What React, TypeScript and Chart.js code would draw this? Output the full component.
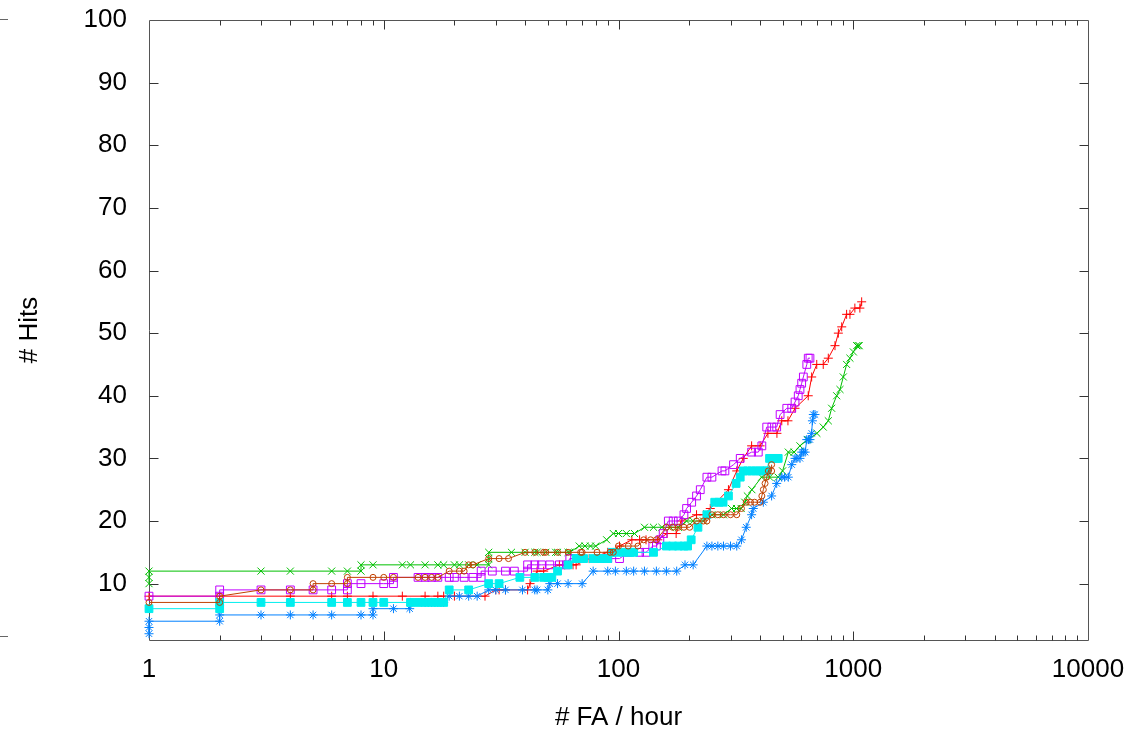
import React, { useEffect, useRef } from "react";
import { Chart, registerables } from "chart.js";

Chart.register(...registerables);

// ---- data (FA/hour on x, #Hits on y) ----
const redFA = [1, 2, 4, 6, 7, 9, 12, 15, 17, 18, 20, 27, 30, 31, 33, 41, 42, 45, 48, 56, 59, 64, 66, 75, 90, 101, 114, 123, 131, 147, 161, 176, 185, 215, 230, 246, 294, 319, 340, 369, 401, 433, 473, 496, 527, 565, 643, 665, 699, 745, 783, 836, 864, 893, 937, 968, 1016, 1067, 1086];
const redHits = [8, 8, 8, 8, 8, 8, 8, 8, 8, 8, 8, 8, 9, 9, 9, 9, 10, 12, 12, 13, 13, 13, 13, 14, 15, 16, 17, 17, 17, 17, 18, 18, 20, 21, 21, 22, 25, 28, 30, 32, 32, 34, 34, 36, 36, 38, 40, 43, 45, 45, 46, 48, 50, 51, 53, 53, 54, 54, 55];

const greenFA = [1, 1, 1, 3, 4, 6, 7, 8, 8, 9, 12, 13, 15, 17, 18, 20, 21, 23, 25, 28, 28, 28, 35, 40, 44, 45, 49, 54, 55, 61, 62, 68, 72, 76, 80, 89, 95, 100, 108, 117, 129, 141, 153, 166, 180, 195, 208, 230, 250, 280, 303, 318, 333, 345, 354, 370, 407, 440, 479, 500, 529, 560, 593, 640, 700, 745, 783, 809, 850, 878, 907, 937, 968, 1001, 1034, 1050, 1060];
const greenHits = [10, 11, 12, 12, 12, 12, 12, 12, 13, 13, 13, 13, 13, 13, 13, 13, 13, 13, 13, 13, 14, 15, 15, 15, 15, 15, 15, 15, 15, 15, 15, 16, 16, 16, 16, 17, 18, 18, 18, 18, 19, 19, 19, 19, 19, 20, 20, 20, 21, 21, 22, 22, 22, 23, 24, 25, 27, 27, 27, 28, 31, 31, 32, 33, 34, 35, 36, 38, 40, 41, 43, 45, 46, 47, 48, 48, 48];

const blueFA = [1, 1, 1, 2, 2, 3, 4, 5, 6, 8, 9, 9, 11, 12.9, 13, 15, 16, 17, 18, 19, 21, 23, 25, 28, 30, 33, 39, 44, 45, 50, 51, 55, 61, 70, 78, 90, 97, 108, 116, 129, 145, 160, 177, 192, 208, 238, 250, 265, 280, 300, 319, 334, 350, 369, 375, 414, 449, 472, 496, 510, 529, 547, 565, 575, 593, 603, 613, 624, 634, 645, 654, 665, 670, 676, 687];
const blueHits = [2, 3, 4, 4, 5, 5, 5, 5, 5, 5, 5, 6, 6, 6, 7, 7, 7, 7, 7, 8, 8, 8, 8, 9, 9, 9, 9, 9, 9, 9, 10, 10, 10, 10, 12, 12, 12, 12, 12, 12, 12, 12, 12, 13, 13, 16, 16, 16, 16, 16, 16, 17, 19, 21, 22, 23, 24, 26, 27, 27, 27, 29, 30, 30, 30, 31, 31, 31, 33, 33, 33, 34, 36, 37, 37];

const purpleFA = [1, 2, 2, 3, 4, 5, 6, 7, 7, 8, 10, 11, 11, 14, 15, 16, 17, 19, 20, 22, 24, 26, 26, 29, 33, 36, 41, 41, 44, 47, 51, 56, 60, 62, 65, 68, 83, 90, 101, 110, 123, 131, 140, 145, 150, 155, 163, 171, 180, 190, 195, 205, 215, 223, 238, 250, 276, 284, 309, 330, 369, 394, 408, 428, 450, 472, 488, 521, 547, 565, 583, 593, 603, 613, 634, 643, 654];
const purpleHits = [8, 8, 9, 9, 9, 9, 9, 9, 10, 10, 10, 10, 11, 11, 11, 11, 11, 11, 11, 11, 11, 11, 12, 12, 12, 12, 12, 13, 13, 13, 13, 13, 13, 14, 14, 14, 14, 14, 14, 15, 15, 15, 16, 16, 17, 18, 20, 20, 20, 21, 22, 23, 24, 25, 27, 27, 28, 28, 29, 30, 31, 31, 32, 35, 35, 35, 37, 38, 38, 39, 40, 41, 42, 43, 45, 46, 46];

const cyanFA = [1, 2, 2, 3, 4, 6, 7, 8, 9, 10, 13, 14, 15, 16, 17, 18, 19, 23, 28, 31, 38, 44, 48, 50, 52, 55, 61, 66, 68, 71, 78, 82, 86, 90, 94, 98, 105, 112, 116, 141, 160, 170, 180, 190, 197, 204, 218, 238, 257, 268, 279, 294, 317, 330, 340, 355, 370, 385, 400, 415, 428, 440, 455, 470, 479];
const cyanHits = [6, 6, 7, 7, 7, 7, 7, 7, 7, 7, 7, 7, 7, 7, 7, 7, 9, 9, 10, 10, 11, 11, 11, 11, 11, 12, 13, 14, 14, 14, 14, 14, 14, 14, 15, 15, 15, 15, 15, 15, 16, 16, 16, 16, 16, 17, 19, 21, 23, 23, 23, 24, 26, 27, 28, 28, 28, 28, 28, 28, 28, 30, 30, 30, 30];

const brownFA = [1, 2, 2, 3, 4, 5, 5, 6, 7, 7, 9, 10, 11, 14, 15, 16, 17, 19, 21, 22, 23, 24, 28, 31, 34, 40, 44, 48, 49, 55, 61, 69, 70, 81, 92, 95, 100, 110, 121, 128, 137, 145, 160, 170, 180, 190, 201, 215, 230, 238, 250, 265, 280, 300, 319, 334, 350, 365, 380, 401, 408, 414, 421, 428, 435, 449, 449];
const brownHits = [7, 7, 8, 9, 9, 9, 10, 10, 10, 11, 11, 11, 11, 11, 11, 11, 11, 12, 12, 12, 13, 13, 14, 14, 14, 15, 15, 15, 15, 15, 15, 15, 15, 15, 15, 15, 16, 16, 16, 17, 17, 17, 19, 19, 19, 19, 19, 20, 20, 20, 21, 21, 21, 21, 21, 22, 23, 23, 23, 23, 24, 25, 26, 27, 28, 28, 29];

// ---- axes ----
const xMin = 1;
const xMax = 10000;
const yMin = 1;
const yMax = 100;
const yTickValues = [10, 20, 30, 40, 50, 60, 70, 80, 90, 100];
const xMajorTicks = [1, 10, 100, 1000, 10000];
const xAxisTitle = "# FA / hour";
const yAxisTitle = "# Hits";

const FONT = "'Liberation Sans', Arial, Helvetica, sans-serif";

const isMajorX = (v: number) => xMajorTicks.some((m) => Math.abs(m - v) < 1e-9 * m);

const allXTicks: number[] = (() => {
  const out: number[] = [];
  for (let d = 0; d < xMajorTicks.length - 1; d++) {
    const base = xMajorTicks[d];
    for (let k = 1; k <= 9; k++) out.push(base * k);
  }
  out.push(xMajorTicks[xMajorTicks.length - 1]);
  return out;
})();

const toPts = (xs: number[], ys: number[]) => xs.map((x, i) => ({ x, y: ys[i] }));

const zeroPad = (scale: any) => {
  scale.paddingTop = 0;
  scale.paddingBottom = 0;
  scale.paddingLeft = 0;
  scale.paddingRight = 0;
};

const framePlugin = {
  id: "gnuplotFrame",
  beforeDatasetsDraw(chart: any) {
    const { ctx, chartArea: a, scales } = chart;
    const xs = scales.x;
    const ys = scales.y;
    ctx.save();
    ctx.lineWidth = 1;
    ctx.strokeStyle = "#555";
    const L = Math.round(a.left) + 0.5;
    const R = Math.round(a.right) + 0.5;
    const T = Math.round(a.top) + 0.5;
    const B = Math.round(a.bottom) + 0.5;
    ctx.beginPath();
    ctx.rect(L, T, R - L, B - T);
    ctx.stroke();
    ctx.strokeStyle = "#333";
    ctx.beginPath();
    for (const t of xs.ticks) {
      const v = t.value;
      if (v <= xMin || v >= xMax) continue;
      const px = Math.round(xs.getPixelForValue(v)) + 0.5;
      const len = isMajorX(v) ? 9 : 5;
      ctx.moveTo(px, B);
      ctx.lineTo(px, B - len);
      ctx.moveTo(px, T);
      ctx.lineTo(px, T + len);
    }
    for (const t of ys.ticks) {
      const v = t.value;
      if (v >= yMax) continue;
      const py = Math.round(ys.getPixelForValue(v)) + 0.5;
      ctx.moveTo(L, py);
      ctx.lineTo(L + 9, py);
      ctx.moveTo(R, py);
      ctx.lineTo(R - 9, py);
    }
    ctx.stroke();
    // small marks at the far left edge, as in the source picture
    ctx.strokeStyle = "#666";
    ctx.beginPath();
    ctx.moveTo(0, T - 1);
    ctx.lineTo(8, T - 1);
    ctx.moveTo(0, B - 4);
    ctx.lineTo(8, B - 4);
    ctx.stroke();
    ctx.restore();
  },
};

export default function App() {
  const ref = useRef<HTMLCanvasElement>(null);

  useEffect(() => {
    document.body.style.margin = "0";
    const canvas = ref.current;
    if (!canvas) return;

    const common = {
      showLine: true,
      borderWidth: 1,
      pointBorderWidth: 1,
      pointHoverRadius: 0,
      tension: 0,
      fill: false,
      clip: false as any,
    };

    const chart = new Chart(canvas, {
      type: "line",
      data: {
        datasets: [
          {
            ...common,
            label: "1",
            data: toPts(redFA, redHits),
            borderColor: "#ff0000",
            pointBorderColor: "#ff0000",
            pointBackgroundColor: "#ff0000",
            pointStyle: "cross",
            pointRadius: 4.5,
            order: 6,
          },
          {
            ...common,
            label: "2",
            data: toPts(greenFA, greenHits),
            borderColor: "#00c000",
            pointBorderColor: "#00c000",
            pointBackgroundColor: "#00c000",
            pointStyle: "crossRot",
            pointRadius: 5,
            order: 5,
          },
          {
            ...common,
            label: "3",
            data: toPts(blueFA, blueHits),
            borderColor: "#0080ff",
            pointBorderColor: "#0080ff",
            pointBackgroundColor: "#0080ff",
            pointStyle: "star",
            pointRadius: 4.5,
            order: 4,
          },
          {
            ...common,
            label: "4",
            data: toPts(purpleFA, purpleHits),
            borderColor: "#c000ff",
            pointBorderColor: "#c000ff",
            pointBackgroundColor: "rgba(0,0,0,0)",
            pointStyle: "rect",
            pointRadius: 5.5,
            order: 3,
          },
          {
            ...common,
            label: "5",
            data: toPts(cyanFA, cyanHits),
            borderColor: "#00eeee",
            pointBorderColor: "#00eeee",
            pointBackgroundColor: "#00eeee",
            pointStyle: "rect",
            pointRadius: 5.5,
            order: 2,
          },
          {
            ...common,
            label: "6",
            data: toPts(brownFA, brownHits),
            borderColor: "#c04000",
            pointBorderColor: "#c04000",
            pointBackgroundColor: "rgba(0,0,0,0)",
            pointStyle: "circle",
            pointRadius: 3,
            order: 1,
          },
        ],
      },
      options: {
        responsive: false,
        maintainAspectRatio: false,
        devicePixelRatio: 1,
        animation: false,
        events: [],
        layout: { padding: { left: 0, right: 46, top: 20, bottom: 0 } },
        plugins: {
          legend: { display: false },
          tooltip: { enabled: false },
          title: { display: false },
        },
        scales: {
          x: {
            type: "logarithmic",
            position: "bottom",
            min: xMin,
            max: xMax,
            grid: { display: false, drawTicks: false },
            border: { display: false },
            afterBuildTicks: (scale: any) => {
              scale.ticks = allXTicks.map((v) => ({ value: v, major: isMajorX(v) }));
            },
            afterFit: (scale: any) => {
              scale.height = 91;
              zeroPad(scale);
            },
            ticks: {
              autoSkip: false,
              maxRotation: 0,
              minRotation: 0,
              padding: 14,
              color: "#000",
              font: { family: FONT, size: 26 },
              callback: (v: any) => (isMajorX(Number(v)) ? String(Number(v)) : ""),
            },
            title: {
              display: true,
              text: xAxisTitle,
              color: "#000",
              font: { family: FONT, size: 26, lineHeight: 1.0 },
              padding: { top: 0, bottom: 0 },
            },
          },
          y: {
            type: "linear",
            position: "left",
            min: yMin,
            max: yMax,
            grid: { display: false, drawTicks: false },
            border: { display: false },
            afterBuildTicks: (scale: any) => {
              scale.ticks = yTickValues.map((v) => ({ value: v }));
            },
            afterFit: (scale: any) => {
              scale.width = 149;
              zeroPad(scale);
            },
            ticks: {
              padding: 22,
              color: "#000",
              font: { family: FONT, size: 26 },
              callback: (v: any) => String(v),
            },
            title: {
              display: true,
              text: yAxisTitle,
              color: "#000",
              font: { family: FONT, size: 26, lineHeight: 1.0 },
              padding: { top: 17, bottom: 0 },
            },
          },
        },
      },
      plugins: [framePlugin],
    } as any);

    return () => chart.destroy();
  }, []);

  return (
    <div style={{ width: 1134, height: 731, position: "relative", background: "#fff" }}>
      <canvas ref={ref} width={1134} height={731} style={{ display: "block", width: 1134, height: 731 }} />
    </div>
  );
}
